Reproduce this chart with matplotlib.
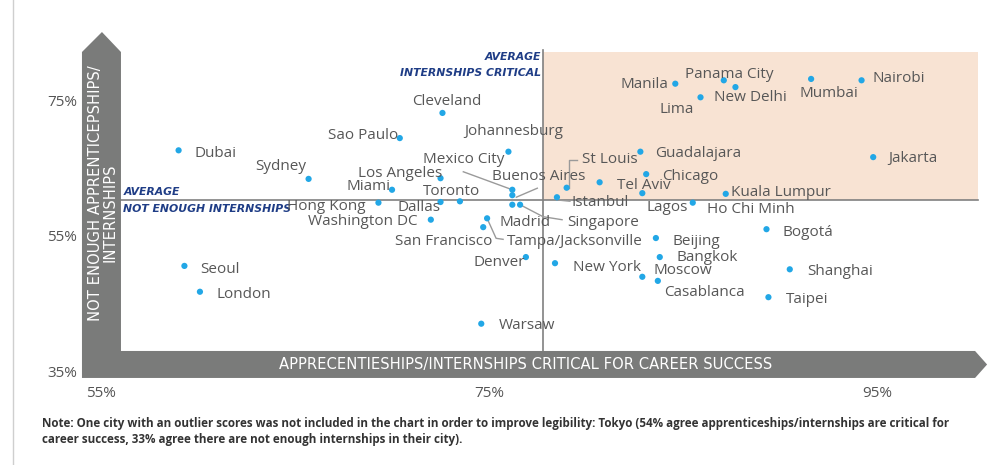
import matplotlib
matplotlib.use("Agg")
import matplotlib.pyplot as plt
import numpy as np
from matplotlib.patches import Polygon, Rectangle
from matplotlib.lines import Line2D

# % agreeing internships are critical for career success (x)
# and % agreeing there are not enough internships in their city (y)
cities = ["Dubai", "Seoul", "London", "Sydney", "Hong Kong", "Miami", "Sao Paulo",
          "Washington DC", "Los Angeles", "Dallas", "Cleveland", "Toronto", "Warsaw",
          "San Francisco", "Tampa/Jacksonville", "Johannesburg", "Mexico City",
          "Buenos Aires", "Madrid", "Singapore", "Denver", "New York", "Istanbul",
          "St Louis", "Tel Aviv", "Guadalajara", "Lagos", "Moscow", "Chicago", "Beijing",
          "Casablanca", "Bangkok", "Manila", "Ho Chi Minh", "Lima", "Panama City",
          "Kuala Lumpur", "New Delhi", "Bogotá", "Taipei", "Shanghai", "Mumbai",
          "Jakarta", "Nairobi"]
critical = [59.0, 59.3, 60.1, 65.7, 69.3, 70.0, 70.4, 72.0, 72.5, 72.5, 72.6, 73.5, 74.6,
            74.7, 74.9, 76.0, 76.2, 76.2, 76.2, 76.6, 76.9, 78.4, 78.5, 79.0, 80.7, 82.8,
            82.9, 82.9, 83.1, 83.6, 83.7, 83.8, 84.6, 85.5, 85.9, 87.1, 87.2, 87.7, 89.3,
            89.4, 90.5, 91.6, 94.8, 94.2]
not_enough = [67.6, 50.6, 46.8, 63.4, 59.9, 61.8, 69.4, 57.4, 63.5, 60.0, 73.1, 60.1, 42.1,
              56.3, 57.6, 67.4, 61.8, 61.0, 59.6, 59.6, 51.9, 51.0, 60.7, 62.1, 62.9, 67.4,
              61.3, 49.0, 64.1, 54.7, 48.4, 51.9, 77.4, 59.9, 75.4, 77.9, 61.2, 76.9, 56.0,
              46.0, 50.1, 78.1, 66.6, 77.9]

avg_critical = 77.8
avg_not_enough = 60.3

x_ticks = [55, 75, 95]
y_ticks = [35, 55, 75]

# label placement: pixel offset from the dot + alignment
label_pos = {
    "Dubai": (16, -3, "left"), "Seoul": (16, -4, "left"), "London": (17, -3, "left"),
    "Sydney": (-2, 12, "right"), "Hong Kong": (-13, -4, "right"), "Miami": (-2, 3, "right"),
    "Sao Paulo": (-2, 3, "right"), "Washington DC": (-13, -2, "right"),
    "Los Angeles": (2, 5, "right"), "Dallas": (0, -5, "right"), "Cleveland": (4, 11, "center"),
    "Toronto": (-8, 10, "center"), "Warsaw": (18, -2, "left"), "San Francisco": (9, -14, "right"),
    "Tampa/Jacksonville": (20, -23, "left"), "Johannesburg": (5, 20, "center"),
    "Mexico City": (-49, 30, "center"), "Buenos Aires": (26, 19, "center"),
    "Madrid": (13, -18, "center"), "Singapore": (47, -18, "left"), "Denver": (-1, -5, "right"),
    "New York": (18, -4, "left"), "Istanbul": (15, -5, "left"), "St Louis": (15, 28, "left"),
    "Tel Aviv": (17, -3, "left"), "Guadalajara": (15, -2, "left"), "Lagos": (25, -14, "center"),
    "Moscow": (11, 6, "left"), "Chicago": (16, -2, "left"), "Beijing": (17, -3, "left"),
    "Casablanca": (6, -12, "left"), "Bangkok": (17, 0, "left"), "Manila": (-7, -1, "right"),
    "Ho Chi Minh": (14, -7, "left"), "Lima": (-7, -12, "right"), "Panama City": (5, 6, "center"),
    "Kuala Lumpur": (5, 1, "left"), "New Delhi": (15, -10, "center"), "Bogotá": (16, -3, "left"),
    "Taipei": (17, -2, "left"), "Shanghai": (17, -2, "left"), "Mumbai": (18, -15, "center"),
    "Jakarta": (15, -1, "left"), "Nairobi": (11, 2, "left"),
}
leaders = {
    "Mexico City": [(0, 0), (-49, 18)],
    "Buenos Aires": [(4, -2), (25, 7)],
    "Singapore": [(0, 0), (23, -12), (42, -15)],
    "Tampa/Jacksonville": [(0, 0), (9, -20), (16, -21)],
    "St Louis": [(2, 0), (2, 28), (10, 28)],
    "Istanbul": [(3, -3), (13, -4)],
}

label_col = "#575757"
dot_col = "#22a7e6"
bar_col = "#7a7b7a"
avg_col = "#1f3d86"

fig = plt.figure(figsize=(9.9, 4.65), dpi=100)
ax = fig.add_axes([81 / 990, 1 - 380 / 465, 909 / 990, 380 / 465])
ax.set_xlim(53.97, 100.82)
ax.set_ylim(33.82, 89.71)
for s in ax.spines.values():
    s.set_visible(False)

# thin frame line at the left edge
fig.add_artist(Line2D([13 / 990, 13 / 990], [0, 1], color="#cfcfcf", lw=1))

# shaded quadrant
ax.add_patch(Rectangle((avg_critical, avg_not_enough), 100.2 - avg_critical, 82.1 - avg_not_enough,
                       facecolor="#f8e3d3", edgecolor="none", zorder=0))

# average lines
ax.plot([56.0, 100.2], [avg_not_enough, avg_not_enough], color="#808080", lw=1.2, zorder=1)
ax.plot([avg_critical, avg_critical], [38.1, 82.4], color="#808080", lw=1.2, zorder=1)

# arrow shaped axes
arrow = [(54.02, 34.12), (54.02, 82.06), (55.05, 85.0), (56.03, 82.06), (56.03, 38.09),
         (100.05, 38.09), (100.67, 36.1), (100.05, 34.12)]
ax.add_patch(Polygon(arrow, closed=True, facecolor=bar_col, edgecolor="none", zorder=2))
ax.text(76.9, 36.1, "APPRECENTIESHIPS/INTERNSHIPS CRITICAL FOR CAREER SUCCESS", color="white",
        fontsize=10.6, family="DejaVu Sans", ha="center", va="center", zorder=3)
ax.text(54.72, 61.3, "NOT ENOUGH APPRENTICEPSHIPS/", color="white", rotation=90,
        fontsize=10.6, family="DejaVu Sans", ha="center", va="center", zorder=3)
ax.text(55.46, 58.4, "INTERNSHIPS", color="white", rotation=90,
        fontsize=10.6, family="DejaVu Sans", ha="center", va="center", zorder=3)

# average captions
ax.text(avg_critical - 0.1, 81.3, "AVERAGE", color=avg_col, fontsize=7.8, weight="bold",
        style="italic", ha="right", va="center")
ax.text(avg_critical - 0.1, 78.9, "INTERNSHIPS CRITICAL", color=avg_col, fontsize=7.8,
        weight="bold", style="italic", ha="right", va="center")
ax.text(56.15, 61.4, "AVERAGE", color=avg_col, fontsize=7.8, weight="bold",
        style="italic", ha="left", va="center")
ax.text(56.15, 58.9, "NOT ENOUGH INTERNSHIPS", color=avg_col, fontsize=7.8, weight="bold",
        style="italic", ha="left", va="center")

ax.scatter(critical, not_enough, s=20, color=dot_col, edgecolors="none", zorder=4)

for name, x, y in zip(cities, critical, not_enough):
    dx, dy, ha = label_pos[name]
    ax.annotate(name, (x, y), xytext=(dx, dy), textcoords="offset pixels", ha=ha, va="center",
                fontsize=11, family="Open Sans", color=label_col, zorder=5)
    if name in leaders:
        base = ax.transData.transform((x, y))
        pts = [ax.transData.inverted().transform(base + np.array(o)) for o in leaders[name]]
        pts = np.array(pts)
        ax.plot(pts[:, 0], pts[:, 1], color="#9a9a9a", lw=1, zorder=3)

ax.set_xticks(x_ticks)
ax.set_xticklabels([f"{t}%" for t in x_ticks])
ax.set_yticks(y_ticks)
ax.set_yticklabels([f"{t}%" for t in y_ticks])
ax.tick_params(length=0, labelsize=11, labelcolor="#555555")
ax.tick_params(axis="x", pad=4.5)
ax.tick_params(axis="y", pad=3)
for lab in ax.get_xticklabels() + ax.get_yticklabels():
    lab.set_family("Open Sans")

note = ("Note: One city with an outlier scores was not included in the chart in order to improve "
        "legibility: Tokyo (54% agree apprenticeships/internships are critical for\n"
        "career success, 33% agree there are not enough internships in their city).")
fig.text(42 / 990, 1 - 417 / 465, note, fontsize=8.4, weight="bold", family="Open Sans",
         color="#333333", ha="left", va="top", linespacing=1.3)

fig.savefig("out.png", dpi=100)
